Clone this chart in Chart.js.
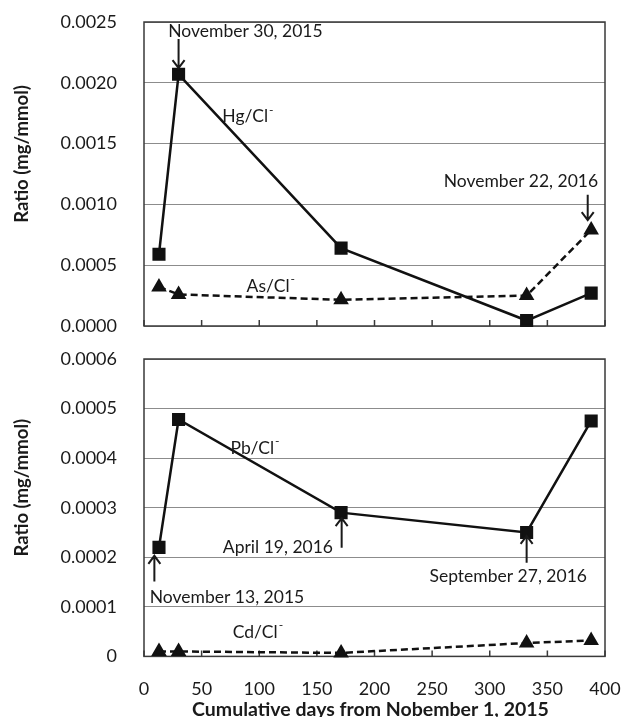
<!DOCTYPE html>
<html>
<head>
<meta charset="utf-8">
<script src="https://cdn.jsdelivr.net/npm/chart.js@4"></script>
<style>
  body { margin: 0; background: #fff; overflow: hidden; }
  #wrap { position: relative; width: 624px; height: 717px; overflow: hidden; }
  #top-chart { position: absolute; left: 0; top: 0; }
  #bottom-chart { position: absolute; left: 0; top: 340px; }
</style>
</head>
<body>
<div id="wrap">
  <canvas id="top-chart" width="624" height="340"></canvas>
  <canvas id="bottom-chart" width="624" height="400"></canvas>
</div>
<script>
// --- Data ---
const days = [13, 30, 171, 332, 388];
const hgCl = [0.00059, 0.00207, 0.00064, 0.000045, 0.00027];
const asCl = [0.00032, 0.00026, 0.000215, 0.00025, 0.00079];
const pbCl = [0.00022, 0.000478, 0.00029, 0.00025, 0.000475];
const cdCl = [0.00001, 0.00001, 0.000007, 0.000027, 0.000032];

const xTicks = [0, 50, 100, 150, 200, 250, 300, 350, 400];
const topYTicks = [0, 0.0005, 0.001, 0.0015, 0.002, 0.0025];
const bottomYTicks = [0, 0.0001, 0.0002, 0.0003, 0.0004, 0.0005, 0.0006];

const yTitle = "Ratio (mg/mmol)";
const xTitle = "Cumulative days from Nobember 1, 2015";

// annotations, placed in data units
const topTexts = [
  { text: "November 30, 2015", x: 88, y: 0.00242, align: "center" },
  { text: "Hg/Cl", sup: "-", x: 68, y: 0.00172, align: "left" },
  { text: "As/Cl", sup: "-", x: 89, y: 0.00033, align: "left" },
  { text: "November 22, 2016", x: 327, y: 0.00119, align: "center" }
];
const topArrows = [
  { x: 30, from: 0.00236, to: 0.00212 },
  { x: 385, from: 0.00108, to: 0.00087 }
];
const bottomTexts = [
  { text: "Pb/Cl", sup: "-", x: 75, y: 0.00042, align: "left" },
  { text: "April 19, 2016", x: 164, y: 0.000219, align: "right" },
  { text: "November 13, 2015", x: 5, y: 0.00012, align: "left" },
  { text: "September 27, 2016", x: 316, y: 0.000162, align: "center" },
  { text: "Cd/Cl", sup: "-", x: 77, y: 0.000048, align: "left" }
];
const bottomArrows = [
  { x: 171.5, from: 0.000219, to: 0.000279 },
  { x: 9, from: 0.000151, to: 0.000203 },
  { x: 332, from: 0.000189, to: 0.000243 }
];

Chart.defaults.font.family = "Lato, 'Open Sans', sans-serif";
Chart.defaults.color = "#1a1a1a";

// --- Plot frame, inward x tick marks, axis titles ---
const framePlugin = {
  id: "frame",
  beforeDatasetsDraw(chart, args, opts) {
    const { ctx, chartArea: a, scales: { x } } = chart;
    ctx.save();
    ctx.strokeStyle = "#3a3a3a";
    ctx.lineWidth = 1.5;
    ctx.strokeRect(a.left, a.top, a.right - a.left, a.bottom - a.top);
    ctx.beginPath();
    xTicks.forEach(v => {
      const px = x.getPixelForValue(v);
      ctx.moveTo(px, a.bottom);
      ctx.lineTo(px, a.bottom - 6);
    });
    ctx.stroke();

    ctx.fillStyle = "#1a1a1a";
    ctx.textAlign = "center";
    ctx.textBaseline = "middle";
    ctx.font = "bold 18.5px Lato";
    ctx.save();
    ctx.translate(22, (a.top + a.bottom) / 2 - 20);
    ctx.rotate(-Math.PI / 2);
    ctx.fillText(yTitle, 0, 0);
    ctx.restore();
    ctx.font = "bold 19.5px Lato";
    if (opts.showX) ctx.fillText(xTitle, (a.left + a.right) / 2 - 4, a.bottom + 53);
    ctx.restore();
  }
};

// --- Text labels and arrows ---
const notesPlugin = {
  id: "notes",
  afterDatasetsDraw(chart, args, opts) {
    const { ctx, scales: { x, y } } = chart;
    ctx.save();
    ctx.fillStyle = "#1a1a1a";
    ctx.strokeStyle = "#1a1a1a";
    ctx.textBaseline = "middle";
    (opts.texts || []).forEach(t => {
      const px = x.getPixelForValue(t.x), py = y.getPixelForValue(t.y);
      ctx.font = "17.5px Lato";
      ctx.textAlign = t.align;
      ctx.fillText(t.text, px, py);
      if (t.sup) {
        const w = ctx.measureText(t.text).width;
        const sx = t.align === "left" ? px + w : t.align === "center" ? px + w / 2 : px;
        ctx.font = "12px Lato";
        ctx.textAlign = "left";
        ctx.fillText(t.sup, sx + 1, py - 7);
      }
    });
    (opts.arrows || []).forEach(ar => {
      const px = x.getPixelForValue(ar.x);
      const y1 = y.getPixelForValue(ar.from), y2 = y.getPixelForValue(ar.to);
      const dir = y2 > y1 ? 1 : -1;
      ctx.lineWidth = 2;
      ctx.beginPath();
      ctx.moveTo(px, y1);
      ctx.lineTo(px, y2);
      ctx.moveTo(px - 6, y2 - dir * 8);
      ctx.lineTo(px, y2);
      ctx.lineTo(px + 6, y2 - dir * 8);
      ctx.stroke();
    });
    ctx.restore();
  }
};

// --- Build one panel ---
function makePanel(id, solid, dashed, yTicks, fmt, texts, arrows, isBottom) {
  return new Chart(document.getElementById(id), {
    type: "line",
    data: {
      datasets: [
        {
          data: days.map((d, i) => ({ x: d, y: solid[i] })),
          borderColor: "#111", backgroundColor: "#111",
          borderWidth: 2.5, pointStyle: "rect", pointRadius: 7.5,
          tension: 0, clip: false
        },
        {
          data: days.map((d, i) => ({ x: d, y: dashed[i] })),
          borderColor: "#111", backgroundColor: "#111",
          borderWidth: 2.5, borderDash: [7, 4], pointStyle: "triangle", pointRadius: 6.5,
          tension: 0, clip: false
        }
      ]
    },
    options: {
      responsive: false,
      animation: false,
      layout: { padding: isBottom ? { top: 19, right: 19, bottom: 18, left: 0 } : { top: 22, right: 19, bottom: 14, left: 0 } },
      plugins: {
        legend: { display: false },
        tooltip: { enabled: false },
        frame: { showX: isBottom },
        notes: { texts, arrows }
      },
      scales: {
        x: {
          type: "linear", min: 0, max: 400,
          afterBuildTicks: s => { s.ticks = xTicks.map(v => ({ value: v })); },
          afterFit: s => { s.paddingLeft = 0; s.paddingRight = 0; },
          grid: { display: false, drawTicks: false },
          border: { display: false },
          ticks: { display: isBottom, padding: 22, font: { size: 18 } }
        },
        y: {
          min: yTicks[0], max: yTicks[yTicks.length - 1],
          afterBuildTicks: s => { s.ticks = yTicks.map(v => ({ value: v })); },
          afterFit: s => { s.width = 144; s.paddingTop = 0; s.paddingBottom = 0; },
          grid: { color: "#8c8c8c", lineWidth: 1, drawTicks: false },
          border: { display: false },
          ticks: { padding: 27, font: { size: 18 }, callback: fmt }
        }
      }
    },
    plugins: [framePlugin, notesPlugin]
  });
}

makePanel("top-chart", hgCl, asCl, topYTicks, v => v.toFixed(4), topTexts, topArrows, false);
makePanel("bottom-chart", pbCl, cdCl, bottomYTicks, v => (v === 0 ? "0" : v.toFixed(4)), bottomTexts, bottomArrows, true);
</script>
</body>
</html>
